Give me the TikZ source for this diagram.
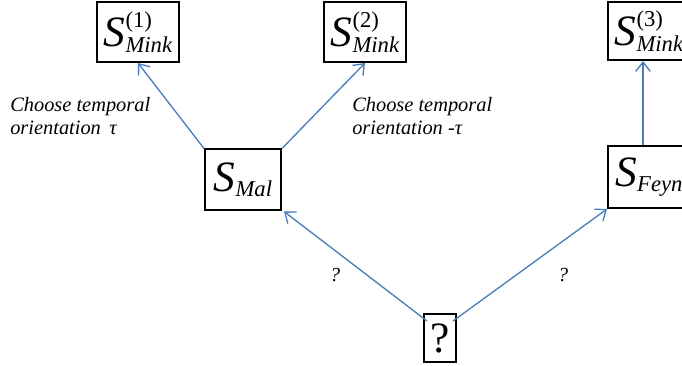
\documentclass[tikz,border=0pt]{standalone}
\usepackage{fontspec}
\setmainfont{Liberation Serif}
\usepackage{tikz}
\usetikzlibrary{arrows.meta}
\definecolor{linkblue}{HTML}{4A7EBB}
% S with index above and name below, placed by hand
\newcommand{\spacesub}[2]{\textit{S}\makebox[0pt][l]{\raisebox{14.5pt}{\fontsize{17}{17}\selectfont #1}}\raisebox{-3.8pt}{\fontsize{17}{17}\selectfont\itshape #2}}

\begin{document}
\begin{tikzpicture}[
    x=0.75pt, y=-0.75pt,
    box/.style={rectangle, draw=black, line width=1.5pt, inner sep=0pt, minimum width=61.5pt, minimum height=45pt, font=\fontsize{32.5}{38}\selectfont},
    arrow/.style={draw=linkblue, line width=1pt, -{Straight Barb[length=7pt,width=11pt]}},
    note/.style={align=left, inner sep=0pt, font=\fontsize{15.3}{17.5}\selectfont\itshape},
    qmark/.style={inner sep=0pt, font=\fontsize{15}{17}\selectfont\itshape}
]
\clip (0,0) rectangle (682,366);

% Minkowski spaces
\node[box] (mink1) at (138,32) {\spacesub{(1)}{Mink}};
\node[box] (mink2) at (365,32) {\spacesub{(2)}{Mink}};
\node[box, minimum height=43.5pt] (mink3) at (649,31) {\spacesub{(3)}{Mink}};

% Middle layer
\node[box, minimum width=57pt, minimum height=45.75pt] (mal) at (243,180) {\spacesub{}{Mal}};
\node[box, anchor=west, minimum height=46.5pt] (feyn) at (607,177) {\spacesub{}{Feyn}};

% Unknown origin
\node[box, minimum width=24pt, minimum height=36pt] (q) at (440,338) {?};

% Labels
\node[note, anchor=north west] (choose1) at (10,97) {Choose temporal\\orientation\, τ};
\node[note, anchor=north west] (choose2) at (352,97) {Choose temporal\\orientation -τ};
\node[qmark] (qleft) at (335,275) {?};
\node[qmark] (qright) at (563,275) {?};

% Connections
\draw[arrow] (mal.north west) -- (mink1.south);
\draw[arrow] (mal.north east) -- (mink2.south);
\draw[arrow] ([shift={(4,8)}]q.north west) -- ([shift={(2,0)}]mal.south east);
\draw[arrow] ([shift={(-4,8)}]q.north east) -- (feyn.south west);
\draw[arrow] ([xshift=27pt]feyn.north west) -- ([xshift=27pt]feyn.north west |- mink3.south);

\end{tikzpicture}
\end{document}
